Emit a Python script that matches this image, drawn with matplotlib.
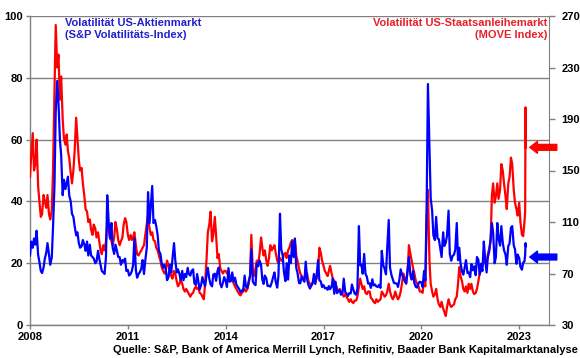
import matplotlib
matplotlib.use("Agg")
import matplotlib.pyplot as plt
import pandas as pd
from datetime import datetime

# ---------------- data (semi-monthly readings, 1st and 15th) ----------------
vix_2008 = [22.5, 27.0, 25.0, 28.0, 26.0, 30.5, 22.7, 20.5, 17.5, 16.8, 18.6, 21.5, 23.4, 26.5, 22.6, 19.5, 21.9, 31.7, 45.0, 69.0, 79.0, 72.0, 60.0, 55.0]
vix_2009 = [42.0, 47.0, 44.0, 46.0, 48.0, 42.0, 40.0, 36.0, 35.0, 32.0, 29.0, 30.0, 26.5, 25.0, 25.5, 27.5, 26.0, 24.0, 27.0, 22.5, 26.0, 22.5, 22.0, 21.5]
vix_2010 = [20.0, 20.5, 24.0, 21.5, 19.5, 17.5, 17.0, 16.5, 22.0, 42.0, 33.0, 28.0, 33.0, 25.0, 23.0, 26.0, 24.0, 22.0, 22.0, 19.5, 21.0, 20.5, 21.5, 17.5]
vix_2011 = [17.8, 16.0, 16.5, 17.5, 19.5, 28.0, 17.7, 15.3, 16.5, 17.1, 18.3, 21.0, 16.5, 20.8, 25.0, 43.0, 33.0, 38.5, 45.0, 33.0, 34.0, 32.0, 29.0, 24.0]
vix_2012 = [23.0, 20.0, 18.5, 19.5, 18.0, 14.5, 15.5, 19.5, 17.0, 21.5, 26.5, 21.0, 17.0, 18.0, 16.5, 14.5, 17.5, 14.5, 16.5, 15.5, 18.5, 16.5, 16.0, 17.5]
vix_2013 = [18.0, 13.5, 13.0, 16.5, 14.0, 11.5, 13.0, 15.5, 13.7, 12.6, 16.3, 18.5, 15.0, 13.2, 12.5, 16.3, 16.6, 14.3, 17.5, 18.6, 13.4, 12.2, 13.7, 15.5]
vix_2014 = [14.2, 12.3, 18.4, 14.0, 14.5, 17.0, 14.0, 15.3, 13.0, 12.4, 11.6, 10.6, 11.2, 11.0, 16.0, 12.4, 12.0, 14.1, 16.0, 24.5, 14.0, 13.3, 12.9, 20.0]
vix_2015 = [19.0, 20.9, 19.4, 14.7, 13.3, 16.0, 15.1, 12.6, 12.7, 12.4, 13.8, 15.4, 17.0, 14.0, 12.1, 16.0, 36.0, 24.5, 22.5, 17.2, 14.2, 20.0, 14.7, 22.5]
vix_2016 = [20.0, 27.0, 22.0, 28.0, 18.5, 16.9, 13.6, 13.5, 15.7, 14.7, 14.0, 20.5, 14.8, 13.0, 11.8, 12.6, 13.5, 16.5, 13.3, 16.1, 21.0, 14.5, 14.1, 12.3]
vix_2017 = [12.9, 11.9, 12.0, 11.4, 12.6, 11.6, 12.4, 15.0, 10.1, 14.0, 10.3, 11.0, 11.2, 9.8, 10.3, 15.0, 10.6, 10.2, 9.4, 10.3, 10.2, 13.1, 11.4, 10.2]
vix_2018 = [9.8, 11.7, 32.0, 19.3, 19.6, 16.6, 23.0, 16.6, 15.6, 13.4, 13.5, 12.0, 14.8, 12.8, 13.1, 12.5, 12.3, 13.0, 12.0, 24.0, 19.3, 18.3, 16.4, 25.0]
vix_2019 = [34.0, 18.6, 16.1, 14.9, 13.6, 13.5, 13.4, 12.3, 14.8, 18.0, 16.1, 15.3, 14.1, 13.5, 18.0, 22.0, 16.0, 14.7, 17.5, 13.5, 12.3, 12.1, 13.5, 14.0]
vix_2020 = [13.8, 12.3, 17.5, 14.4, 40.0, 78.0, 57.0, 41.0, 37.0, 29.0, 27.5, 35.0, 28.0, 27.8, 24.5, 22.0, 30.0, 25.6, 26.7, 29.0, 37.0, 23.0, 20.8, 22.3]
vix_2021 = [22.8, 24.3, 33.0, 21.0, 25.0, 20.0, 17.3, 16.3, 18.6, 21.0, 16.8, 17.0, 15.5, 19.7, 17.7, 19.0, 16.1, 22.0, 21.1, 16.3, 19.8, 17.5, 27.0, 21.6]
vix_2022 = [17.0, 22.0, 24.0, 28.0, 33.0, 30.0, 20.0, 22.0, 33.0, 28.0, 25.7, 32.0, 26.7, 24.2, 22.8, 19.5, 25.6, 26.3, 31.5, 32.0, 25.8, 24.5, 19.8, 22.8]
vix_2023 = [21.7, 18.8, 17.9, 20.2, 20.6]

move_2008 = [145, 162, 179, 150, 155, 174, 138, 126, 114, 116, 131, 126, 121, 131, 116, 112, 119, 150, 210, 263, 230, 240, 205, 223]
move_2009 = [190, 175, 170, 178, 165, 160, 148, 140, 150, 165, 191, 175, 158, 150, 152, 140, 130, 120, 118, 110, 112, 104, 100, 108]
move_2010 = [105, 98, 102, 95, 88, 85, 92, 88, 95, 108, 104, 98, 95, 92, 98, 110, 104, 96, 92, 95, 98, 108, 113, 110]
move_2011 = [100, 96, 100, 96, 98, 102, 92, 85, 84, 86, 88, 90, 92, 100, 108, 115, 105, 100, 102, 96, 95, 90, 88, 84]
move_2012 = [80, 75, 72, 70, 72, 80, 76, 72, 68, 66, 72, 70, 64, 60, 62, 66, 62, 58, 56, 58, 56, 54, 52, 54]
move_2013 = [55, 58, 60, 58, 59, 55, 54, 52, 50, 62, 82, 102, 108, 118, 95, 100, 114, 100, 82, 85, 74, 72, 70, 72]
move_2014 = [72, 70, 72, 66, 64, 66, 62, 60, 58, 56, 54, 53, 55, 56, 58, 56, 58, 62, 68, 100, 72, 68, 74, 80]
move_2015 = [78, 85, 98, 90, 84, 88, 80, 76, 82, 92, 88, 90, 92, 86, 80, 78, 82, 80, 80, 85, 86, 82, 88, 90]
move_2016 = [94, 96, 92, 96, 84, 80, 74, 70, 68, 66, 66, 72, 70, 64, 62, 61, 63, 66, 64, 66, 72, 90, 86, 80]
move_2017 = [76, 72, 70, 68, 72, 76, 70, 66, 64, 62, 58, 56, 58, 56, 54, 52, 54, 52, 50, 48, 50, 48, 47, 49]
move_2018 = [49, 52, 60, 66, 62, 58, 60, 55, 54, 56, 56, 51, 50, 48, 47, 50, 48, 49, 50, 56, 54, 52, 53, 56]
move_2019 = [62, 56, 52, 50, 52, 56, 52, 50, 52, 56, 64, 70, 66, 62, 72, 92, 85, 80, 74, 70, 64, 62, 60, 56]
move_2020 = [56, 55, 64, 60, 110, 135, 80, 62, 56, 52, 54, 58, 50, 46, 44, 48, 43, 40, 37, 44, 50, 46, 44, 45]
move_2021 = [46, 50, 52, 62, 75, 68, 64, 58, 56, 60, 55, 62, 58, 62, 56, 54, 55, 58, 64, 70, 72, 76, 82, 78]
move_2022 = [78, 85, 90, 95, 130, 140, 125, 130, 140, 128, 135, 155, 150, 140, 130, 120, 140, 145, 160, 155, 135, 125, 120, 115]
move_2023 = [125, 110, 100, 99, 110]

# last days (March 2023)
tail_dates = ["2023-03-09", "2023-03-13", "2023-03-17"]
vix_tail = [22.6, 26.5, 25.5]
move_tail = [118, 199, 168]

# latest levels marked by arrows
arrow_vix = 22
arrow_move = 168

year_ticks = [2008, 2011, 2014, 2017, 2020, 2023]
left_ticks = [0, 20, 40, 60, 80, 100]
right_ticks = [30, 70, 110, 150, 190, 230, 270]

vix = (vix_2008 + vix_2009 + vix_2010 + vix_2011 + vix_2012 + vix_2013 + vix_2014 + vix_2015
       + vix_2016 + vix_2017 + vix_2018 + vix_2019 + vix_2020 + vix_2021 + vix_2022 + vix_2023 + vix_tail)
move = (move_2008 + move_2009 + move_2010 + move_2011 + move_2012 + move_2013 + move_2014 + move_2015
        + move_2016 + move_2017 + move_2018 + move_2019 + move_2020 + move_2021 + move_2022 + move_2023 + move_tail)
dates = list(pd.date_range("2008-01-01", "2023-03-01", freq="SMS")) + list(pd.to_datetime(tail_dates))

# ---------------- figure ----------------
plt.rcParams["font.family"] = ["Liberation Sans", "DejaVu Sans"]
plt.rcParams["font.weight"] = "bold"

RED = "#FF0000"
BLUE = "#0000FF"
GRAY = "#808080"

fig = plt.figure(figsize=(5.8, 3.58), dpi=100)
ax = fig.add_axes([30 / 580, 33 / 358, 519 / 580, 309 / 358])
ax_move = ax.twinx()
ax_vix = ax.twinx()

ax.set_xlim(datetime(2008, 1, 1), datetime(2023, 12, 1))
ax.set_ylim(0, 100)
ax.set_yticks(left_ticks)
ax.set_yticklabels([str(t) for t in left_ticks])
ax.set_xticks([datetime(y, 1, 1) for y in year_ticks])
ax.set_xticklabels([str(y) for y in year_ticks])
ax.yaxis.grid(True, color=GRAY, lw=1.0)
ax.set_axisbelow(True)
for s in ["top", "right"]:
    ax.spines[s].set_visible(False)
for s in ["left", "bottom"]:
    ax.spines[s].set_color(GRAY)
    ax.spines[s].set_linewidth(1.0)
ax.tick_params(axis="both", colors=GRAY, labelcolor="black", labelsize=8, length=3, width=1, pad=2)

ax_move.set_ylim(30, 270)
ax_move.set_yticks(right_ticks)
ax_move.set_yticklabels([str(t) for t in right_ticks])
for s in ["top", "left", "bottom"]:
    ax_move.spines[s].set_visible(False)
ax_move.spines["right"].set_color(GRAY)
ax_move.tick_params(axis="y", colors=GRAY, labelcolor="black", labelsize=8, length=4, width=1, pad=5)

ax_vix.set_ylim(0, 100)
ax_vix.yaxis.set_visible(False)
for s in ax_vix.spines.values():
    s.set_visible(False)

ax_move.plot(dates, move, color=RED, lw=1.6)
ax_vix.plot(dates, vix, color=BLUE, lw=1.6)

ax_vix.text(0.067, 0.992, "Volatilität US-Aktienmarkt\n(S&P Volatilitäts-Index)", transform=ax.transAxes,
            ha="left", va="top", color="#2020CC", fontsize=8, fontweight="bold", linespacing=1.15)
ax_vix.text(0.996, 0.992, "Volatilität US-Staatsanleihemarkt\n(MOVE Index)", transform=ax.transAxes,
            ha="right", va="top", multialignment="right", color="#E8202A", fontsize=8,
            fontweight="bold", linespacing=1.15)

style = "simple,head_length=0.55,head_width=0.85,tail_width=0.42"
ax_move.annotate("", xy=(0.963, arrow_move), xycoords=("axes fraction", "data"),
                 xytext=(1.015, arrow_move), textcoords=("axes fraction", "data"),
                 arrowprops=dict(arrowstyle=style, color=RED, shrinkA=0, shrinkB=0, mutation_scale=10),
                 annotation_clip=False)
ax_vix.annotate("", xy=(0.963, arrow_vix), xycoords=("axes fraction", "data"),
                xytext=(1.015, arrow_vix), textcoords=("axes fraction", "data"),
                arrowprops=dict(arrowstyle=style, color=BLUE, shrinkA=0, shrinkB=0, mutation_scale=10),
                annotation_clip=False)

fig.text(0.997, 0.022, "Quelle: S&P, Bank of America Merrill Lynch, Refinitiv, Baader Bank Kapitalmarktanalyse",
         ha="right", va="center", fontsize=8, fontweight="bold")

fig.savefig("out.png", dpi=100)
